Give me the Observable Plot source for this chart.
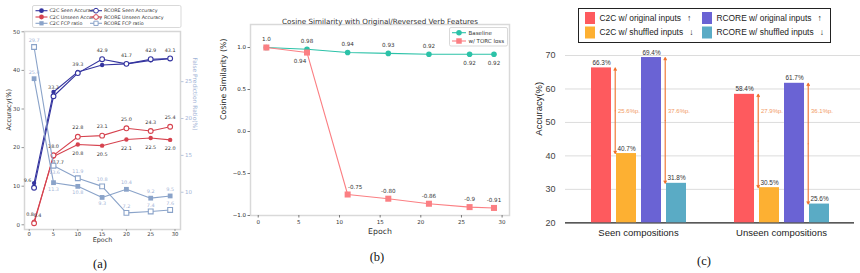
<!DOCTYPE html>
<html>
<head>
<meta charset="utf-8">
<script src="https://cdn.jsdelivr.net/npm/d3@7"></script>
<script src="https://cdn.jsdelivr.net/npm/@observablehq/plot@0.6"></script>
<style>
  html, body { margin: 0; padding: 0; background: #fff; }
  #fig { position: relative; width: 860px; height: 273px; overflow: hidden; background: #fff; }
  .cap { position: absolute; font-family: "Liberation Serif", "DejaVu Serif", serif; font-size: 12.5px; color: #111;
         transform: translate(-50%, -50%); white-space: nowrap; }
</style>
</head>
<body>
<div id="fig"></div>
<script>
// ---------- (a) accuracy and false-prediction ratio over training ----------
const epochsA = [1, 5, 10, 15, 20, 25, 29];
const epochTicksA = [0, 5, 10, 15, 20, 25, 30];
const accTicksA = [0, 10, 20, 30, 40, 50];
const fcpTicksA = [10, 15, 20, 25];
const c2cSeen = [10.8, 34.4, 39.6, 41.4, 41.7, 42.6, 43.0];
const rcoreSeen = [9.6, 33.3, 39.3, 42.9, 41.7, 42.9, 43.1];
const c2cUnseen = [0.8, 17.7, 20.8, 20.5, 22.1, 22.5, 22.0];
const rcoreUnseen = [0.4, 18.0, 22.8, 23.1, 25.0, 24.3, 25.4];
const c2cFcp = [25.4, 11.3, 10.8, 9.3, 10.4, 9.2, 9.5];
const rcoreFcp = [29.7, 13.6, 11.9, 10.8, 7.2, 7.4, 7.6];

// ---------- (b) cosine similarity with original / reversed verb features ----------
const epochsB = [1, 6, 11, 16, 21, 26, 29];
const epochTicksB = [0, 5, 10, 15, 20, 25, 30];
const cosTicksB = [-1.0, -0.5, 0.0, 0.5, 1.0];
const baselineText = ["1.0", "0.98", "0.94", "0.93", "0.92", "0.92", "0.92"];
const torcText = ["1.0", "0.94", "-0.75", "-0.80", "-0.86", "-0.9", "-0.91"];

// ---------- (c) original vs shuffled inputs ----------
const groups = ["Seen compositions", "Unseen compositions"];
const barSeries = ["C2C w/ original inputs", "C2C w/ shuffled inputs", "RCORE w/ original inputs", "RCORE w/ shuffled inputs"];
const barArrows = ["↑", "↓", "↑", "↓"];
const c2cOriginal = [66.3, 58.4];
const c2cShuffled = [40.7, 30.5];
const rcoreOriginal = [69.4, 61.7];
const rcoreShuffled = [31.8, 25.6];
const accTicksC = [20, 30, 40, 50, 60, 70];

// ---------- shared setup ----------
const W = 860, H = 273;
const fig = document.getElementById("fig");
const navy = "#34349f", red = "#d6434f", steel = "#8aa3c9", steelText = "#9fb3d6";
const teal = "#2cc2a8", pink = "#fb7f83";
const barColors = ["#fe5a5e", "#fdb032", "#6a63d4", "#5aabc5"];
const arrowColor = "#f0702a", gapTextColor = "#f29a66";
const sans = "DejaVu Sans, sans-serif";
const arial = "Liberation Sans, Arial, sans-serif";

function place(node, left = 0, top = 0) {
  node.style.position = "absolute";
  node.style.left = left + "px";
  node.style.top = top + "px";
  fig.appendChild(node);
  return node;
}
const baseStyle = (font) => ({background: "transparent", fontFamily: font, overflow: "visible"});
const toRows = (xs, ys) => xs.map((x, i) => ({x, y: ys[i], i}));

// ===== (a) accuracy curves (left axis) =====
const frameA = {left: 24, right: 180, top: 31, bottom: 229};
const xDomainA = [-0.97, 31.13];
const seriesAcc = [
  {rows: toRows(epochsA, c2cUnseen), color: red, hollow: false},
  {rows: toRows(epochsA, rcoreUnseen), color: red, hollow: true},
  {rows: toRows(epochsA, c2cSeen), color: navy, hollow: false},
  {rows: toRows(epochsA, rcoreSeen), color: navy, hollow: true}
];
const accLabel = (rows, opts) =>
  Plot.text(rows, {x: "x", y: "y", text: (d) => d.y.toFixed(1), fontSize: 4.9, fill: "#333", ...opts});
const rSeen = toRows(epochsA, rcoreSeen), rUn = toRows(epochsA, rcoreUnseen), cUn = toRows(epochsA, c2cUnseen);

place(Plot.plot({
  width: W, height: H,
  marginLeft: frameA.left, marginRight: W - frameA.right, marginTop: frameA.top, marginBottom: H - frameA.bottom,
  style: baseStyle(sans),
  x: {domain: xDomainA},
  y: {domain: [-1.22, 50.08]},
  marks: [
    Plot.frame({stroke: "#d6d6d6", strokeWidth: 1.5}),
    Plot.axisX(epochTicksA, {tickSize: 2, tickPadding: 0.5, fontSize: 5.3, stroke: "#999", fill: "#444", label: null}),
    Plot.axisY(accTicksA, {tickSize: 2.5, tickPadding: 2, fontSize: 5.5, stroke: "#999", fill: "#444", label: null}),
    Plot.text(["Epoch"], {frameAnchor: "bottom", dy: 12.5, fontSize: 6.4, fill: "#333", text: (d) => d}),
    Plot.text(["Accuracy(%)"], {frameAnchor: "left", rotate: -90, dx: -16, fontSize: 6.6, fill: "#333", text: (d) => d}),
    ...seriesAcc.flatMap((s) => [
      Plot.line(s.rows, {x: "x", y: "y", stroke: s.color, strokeWidth: 1.1}),
      Plot.dot(s.rows, {x: "x", y: "y", r: s.hollow ? 2.4 : 2.2, fill: s.hollow ? "white" : s.color,
                        stroke: s.color, strokeWidth: s.hollow ? 1.1 : 0})
    ]),
    accLabel(rSeen.slice(0, 1), {dy: -7.5, dx: -6.5}),
    accLabel(rSeen.slice(1), {dy: -8.5}),
    accLabel(rUn.slice(0, 1), {dy: -7.5, dx: 3.5}),
    accLabel(cUn.slice(0, 1), {dy: -7.5, dx: -4}),
    accLabel(rUn.slice(1), {dy: -9}),
    accLabel(cUn.slice(1, 2), {dy: 5.5, dx: 5}),
    accLabel(cUn.slice(2), {dy: 9})
  ]
}));

// ===== (a) false-prediction ratio (right axis) =====
const rFcp = toRows(epochsA, rcoreFcp), cFcp = toRows(epochsA, c2cFcp);
const fcpLabel = (rows, opts) =>
  Plot.text(rows, {x: "x", y: "y", text: (d) => d.y.toFixed(1), fontSize: 4.9, fill: steelText, ...opts});
// C2C labels go under the point while its curve runs below RCORE's
const c2cBelow = cFcp.filter((d) => d.i > 0 && d.y < rcoreFcp[d.i]);
const c2cAbove = cFcp.filter((d) => !(d.i > 0 && d.y < rcoreFcp[d.i]));

place(Plot.plot({
  width: W, height: H,
  marginLeft: frameA.left, marginRight: W - frameA.right, marginTop: frameA.top, marginBottom: H - frameA.bottom,
  style: baseStyle(sans),
  x: {domain: xDomainA, axis: null},
  y: {domain: [4.95, 31.8], axis: null},
  marks: [
    Plot.axisY(fcpTicksA, {anchor: "right", tickSize: 2.5, tickPadding: 2, fontSize: 5.5, stroke: "#b9c7de", fill: steelText, label: null}),
    Plot.text(["False Prediction Ratio(%)"], {frameAnchor: "right", rotate: 90, dx: 14, fontSize: 5.9, fill: steelText, text: (d) => d}),
    Plot.line(cFcp, {x: "x", y: "y", stroke: steel, strokeWidth: 1.1}),
    Plot.line(rFcp, {x: "x", y: "y", stroke: steel, strokeWidth: 1.1}),
    Plot.dot(cFcp, {x: "x", y: "y", symbol: "square", r: 2.7, fill: steel}),
    Plot.dot(rFcp, {x: "x", y: "y", symbol: "square", r: 2.7, fill: "white", stroke: steel, strokeWidth: 1.1}),
    fcpLabel(rFcp.slice(0, 1), {dy: -6.5}),
    fcpLabel(rFcp.slice(1, 2), {dy: 6.5, dx: 1}),
    fcpLabel(rFcp.slice(2), {dy: -6.5}),
    fcpLabel(c2cAbove, {dy: -6.5}),
    fcpLabel(c2cBelow, {dy: 6.5})
  ]
}));

// legend for (a)
(function () {
  const entries = [
    {label: "C2C Seen Accuracy", color: navy, symbol: d3.symbolCircle, hollow: false, col: 0, row: 0},
    {label: "C2C Unseen Accuracy", color: red, symbol: d3.symbolCircle, hollow: false, col: 0, row: 1},
    {label: "C2C FCP ratio", color: steel, symbol: d3.symbolSquare, hollow: false, col: 0, row: 2},
    {label: "RCORE Seen Accuracy", color: navy, symbol: d3.symbolCircle, hollow: true, col: 1, row: 0},
    {label: "RCORE Unseen Accuracy", color: red, symbol: d3.symbolCircle, hollow: true, col: 1, row: 1},
    {label: "RCORE FCP ratio", color: steel, symbol: d3.symbolSquare, hollow: true, col: 1, row: 2}
  ];
  const svg = d3.create("svg").attr("width", 150).attr("height", 24);
  svg.append("rect").attr("x", 0.5).attr("y", 0.5).attr("width", 148.5).attr("height", 22)
    .attr("rx", 1.5).attr("fill", "white").attr("stroke", "#cfcfcf").attr("stroke-width", 0.8);
  for (const e of entries) {
    const g = svg.append("g").attr("transform", `translate(${e.col ? 58 : 3.5},${5.7 + e.row * 6.3})`);
    g.append("line").attr("x1", 0).attr("x2", 12).attr("stroke", e.color).attr("stroke-width", 1.1);
    g.append("path").attr("transform", "translate(6,0)").attr("d", d3.symbol(e.symbol, 18)())
      .attr("fill", e.hollow ? "white" : e.color).attr("stroke", e.hollow ? e.color : "none").attr("stroke-width", 1);
    g.append("text").attr("x", 14).attr("dy", "0.35em").attr("font-family", sans).attr("font-size", 4.8)
      .attr("fill", "#333").text(e.label);
  }
  place(svg.node(), 32, 5);
})();

// ===== (b) cosine similarity =====
const baseRows = epochsB.map((x, i) => ({x, y: +baselineText[i], text: baselineText[i], i}));
const torcRows = epochsB.map((x, i) => ({x, y: +torcText[i], text: torcText[i], i}));
const cosLabel = (rows, opts) => Plot.text(rows, {x: "x", y: "y", text: "text", fontSize: 5.6, fill: "#333", ...opts});
// TORC labels are only drawn where the curve separates from the baseline
const torcApart = torcRows.filter((d) => d.y !== baseRows[d.i].y);
const torcClose = torcApart.filter((d) => Math.abs(d.y - baseRows[d.i].y) < 0.1);
const torcFar = torcApart.filter((d) => Math.abs(d.y - baseRows[d.i].y) >= 0.1);

place(Plot.plot({
  width: W, height: H,
  marginLeft: 250, marginRight: W - 509, marginTop: 24, marginBottom: H - 215,
  style: baseStyle(sans),
  x: {domain: [-0.95, 30.91]},
  y: {domain: [-1.0, 1.274]},
  marks: [
    Plot.frame({stroke: "#d9d9d9", strokeWidth: 1.5}),
    Plot.axisX(epochTicksB, {tickSize: 2.5, tickPadding: 2, fontSize: 5.5, stroke: "#777", fill: "#333", label: null}),
    Plot.axisY(cosTicksB, {tickSize: 2.5, tickPadding: 2, fontSize: 5.5, stroke: "#777", fill: "#222", tickFormat: d3.format(".1f"), label: null}),
    Plot.text(["Cosine Similarity with Original/Reversed Verb Features"], {frameAnchor: "top", dy: -5.5, fontSize: 7.2, fill: "#333", text: (d) => d}),
    Plot.text(["Epoch"], {frameAnchor: "bottom", dy: 18, fontSize: 7.8, fill: "#333", text: (d) => d}),
    Plot.text(["Cosine Similarity (%)"], {frameAnchor: "left", rotate: -90, dx: -27, fontSize: 7.8, fill: "#222", text: (d) => d}),
    Plot.line(baseRows, {x: "x", y: "y", stroke: teal, strokeWidth: 1.1}),
    Plot.dot(baseRows, {x: "x", y: "y", r: 2.8, fill: teal}),
    Plot.line(torcRows, {x: "x", y: "y", stroke: pink, strokeWidth: 1.1}),
    Plot.dot(torcRows, {x: "x", y: "y", symbol: "square", r: 3.4, fill: pink}),
    cosLabel(baseRows.filter((d) => d.x < 24), {dy: -8}),
    cosLabel(baseRows.filter((d) => d.x >= 24), {dy: 8.5}),
    cosLabel(torcClose, {dy: 8.5, dx: -7}),
    cosLabel(torcFar.slice(0, 1), {dy: -7.5, dx: 7.5}),
    cosLabel(torcFar.slice(1), {dy: -7.5})
  ]
}));

// legend for (b)
(function () {
  const svg = d3.create("svg").attr("width", 60).attr("height", 20);
  svg.append("rect").attr("x", 0.5).attr("y", 0.5).attr("width", 58).attr("height", 18.5)
    .attr("rx", 1.5).attr("fill", "white").attr("stroke", "#cfcfcf").attr("stroke-width", 0.8);
  const entries = [
    {label: "Baseline", color: teal, symbol: d3.symbolCircle, size: 24},
    {label: "w/ TORC loss", color: pink, symbol: d3.symbolSquare, size: 30}
  ];
  entries.forEach((e, k) => {
    const g = svg.append("g").attr("transform", `translate(3,${5.7 + k * 8.3})`);
    g.append("line").attr("x1", 0).attr("x2", 14).attr("stroke", e.color).attr("stroke-width", 1.1);
    g.append("path").attr("transform", "translate(7,0)").attr("d", d3.symbol(e.symbol, e.size)()).attr("fill", e.color);
    g.append("text").attr("x", 16.5).attr("dy", "0.35em").attr("font-family", sans).attr("font-size", 5.5)
      .attr("fill", "#333").text(e.label);
  });
  place(svg.node(), 449, 27);
})();

// ===== (c) grouped bars =====
const barValues = [c2cOriginal, c2cShuffled, rcoreOriginal, rcoreShuffled];
const barRows = groups.flatMap((g, gi) => barSeries.map((s, si) => ({group: g, series: s, value: barValues[si][gi]})));
const gapLabelLevel = 53.5;
const gapRows = groups.flatMap((g, gi) => [
  {group: g, at: barSeries[1], top: c2cOriginal[gi], bottom: c2cShuffled[gi]},
  {group: g, at: barSeries[3], top: rcoreOriginal[gi], bottom: rcoreShuffled[gi]}
]).map((d) => ({...d, mid: (d.top + d.bottom) / 2, text: (d.top - d.bottom).toFixed(1) + "%p."}));
const frameC = {left: 565, top: 48, bottom: 222.3};
const yDomainC = [20, 72.1];

// background: grid, value axis, baseline
place(Plot.plot({
  width: W, height: H,
  marginLeft: frameC.left, marginRight: 0, marginTop: frameC.top, marginBottom: H - frameC.bottom,
  style: baseStyle(arial),
  y: {domain: yDomainC, axis: null},
  marks: [
    Plot.ruleY(accTicksC.slice(1), {stroke: "#dcdcdc", strokeWidth: 1}),
    Plot.axisY(accTicksC, {tickSize: 0, tickPadding: 10, fontSize: 9, fill: "#444", label: null}),
    Plot.ruleY([yDomainC[0]], {stroke: "#222", strokeWidth: 1.3, insetRight: 6}),
    Plot.text(["Accuracy(%)"], {frameAnchor: "left", rotate: -90, dx: -27, fontSize: 9.5, fill: "#222", text: (d) => d})
  ]
}));

// foreground: bars, value labels and gap arrows
const arrowDx = -11.3;
place(Plot.plot({
  width: W, height: H,
  marginLeft: frameC.left, marginRight: 5, marginTop: frameC.top, marginBottom: H - frameC.bottom,
  style: baseStyle(arial),
  fx: {domain: groups, paddingInner: 0.3, paddingOuter: 0.157, label: null},
  x: {domain: barSeries, paddingInner: 0.218, paddingOuter: 0.0325, axis: null, label: null},
  y: {domain: yDomainC, axis: null},
  color: {domain: barSeries, range: barColors},
  marks: [
    Plot.barY(barRows, {fx: "group", x: "series", y1: yDomainC[0], y2: "value", fill: "series"}),
    Plot.text(barRows, {fx: "group", x: "series", y: "value", text: (d) => d.value.toFixed(1) + "%", dy: -5, fontSize: 6.4, fill: "#333"}),
    Plot.arrow(gapRows, {fx: "group", x1: "at", x2: "at", y1: "mid", y2: "top", dx: arrowDx,
                         stroke: arrowColor, strokeWidth: 1.1, headLength: 3.5, headAngle: 55}),
    Plot.arrow(gapRows, {fx: "group", x1: "at", x2: "at", y1: "mid", y2: "bottom", dx: arrowDx,
                         stroke: arrowColor, strokeWidth: 1.1, headLength: 3.5, headAngle: 55}),
    Plot.text(gapRows, {fx: "group", x: "at", y: gapLabelLevel, text: "text", textAnchor: "start", dx: -8.5,
                        fontSize: 6, fill: gapTextColor}),
    Plot.axisFx({anchor: "bottom", tickSize: 0, tickPadding: 6, fontSize: 9.5, fill: "#222", label: null})
  ]
}));

// legend for (c)
(function () {
  const svg = d3.create("svg").attr("width", 254).attr("height", 36);
  svg.append("rect").attr("x", 0.5).attr("y", 0.5).attr("width", 252).attr("height", 34)
    .attr("fill", "white").attr("stroke", "#222").attr("stroke-width", 1);
  barSeries.forEach((s, k) => {
    const col = k >> 1, row = k & 1;
    const g = svg.append("g").attr("transform", `translate(${col ? 124 : 7},${10 + row * 14.5})`);
    g.append("rect").attr("x", 0).attr("y", -6).attr("width", 10).attr("height", 12).attr("fill", barColors[k]);
    const t = g.append("text").attr("x", 14.5).attr("dy", "0.35em").attr("font-family", arial)
      .attr("font-size", 8.4).attr("fill", "#222");
    t.append("tspan").text(s);
    t.append("tspan").attr("dx", 6).attr("font-size", 8.5).text(barArrows[k]);
  });
  place(svg.node(), 578, 8);
})();

// panel captions
[["(a)", 100, 264], ["(b)", 377, 257], ["(c)", 704, 261]].forEach(([t, x, y]) => {
  const d = document.createElement("div");
  d.className = "cap";
  d.textContent = t;
  d.style.left = x + "px";
  d.style.top = y + "px";
  fig.appendChild(d);
});
</script>
</body>
</html>
